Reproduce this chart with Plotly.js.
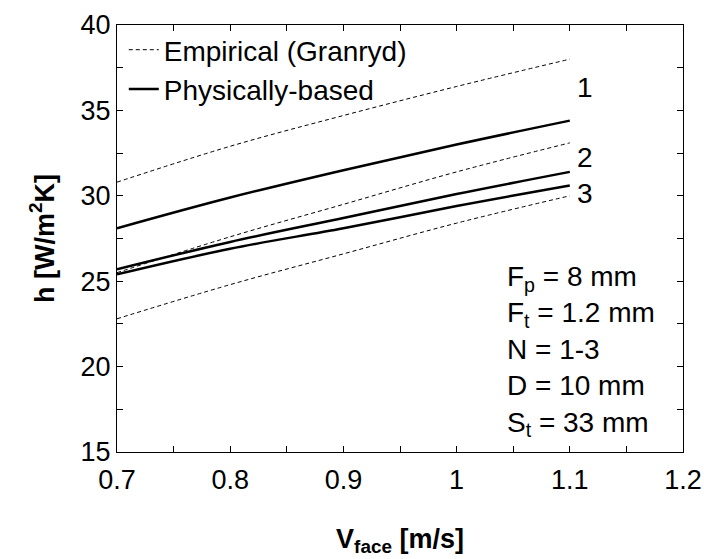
<!DOCTYPE html>
<html>
<head>
<meta charset="utf-8">
<script src="https://cdn.plot.ly/plotly-3.0.1.min.js"></script>
<style>html,body{margin:0;padding:0;background:#fff}#chart{width:704px;height:559px}</style>
</head>
<body>
<div id="chart"></div>
<script>
const vface = [0.7, 0.8, 0.9, 1.0, 1.1];
const empirical1 = [30.8, 32.9, 34.7, 36.4, 38.0];
const empirical2 = [25.5, 27.6, 29.5, 31.4, 33.1];
const empirical3 = [22.8, 24.8, 26.6, 28.4, 30.0];
const physical1 = [28.1, 29.9, 31.5, 33.0, 34.4];
const physical2 = [25.7, 27.3, 28.7, 30.1, 31.4];
const physical3 = [25.4, 26.9, 28.1, 29.4, 30.6];
const curveLabels = ['1', '2', '3'];
const curveLabelY = [36.35, 32.25, 30.15];
const xTickVals = [0.7, 0.8, 0.9, 1.0, 1.1, 1.2];
const xTickText = ['0.7', '0.8', '0.9', '1', '1.1', '1.2'];
const paramLines = ['F<sub>p</sub> = 8 mm', 'F<sub>t</sub> = 1.2 mm', 'N = 1-3', 'D = 10 mm', 'S<sub>t</sub> = 33 mm'];

const FONT = 'Liberation Sans, Arial, sans-serif';
const dashStyle = {color: '#000', width: 1, dash: '4px,3px', shape: 'spline'};
const solidStyle = {color: '#000', width: 2.5, shape: 'spline'};

const traces = [];
[empirical1, empirical2, empirical3].forEach((ys, i) => {
  traces.push({x: vface, y: ys, mode: 'lines', line: dashStyle, name: 'Empirical (Granryd)',
    legendgroup: 'emp', showlegend: i === 0, hoverinfo: 'skip'});
});
[physical1, physical2, physical3].forEach((ys, i) => {
  traces.push({x: vface, y: ys, mode: 'lines', line: solidStyle, name: 'Physically-based',
    legendgroup: 'phys', showlegend: i === 0, hoverinfo: 'skip'});
});

const annotations = curveLabels.map((t, i) => ({
  x: 1.1135, y: curveLabelY[i], xref: 'x', yref: 'y', text: t, showarrow: false,
  font: {family: FONT, size: 28, color: '#000'}, xanchor: 'center', yanchor: 'middle'
}));
annotations.push({
  x: 1.0425, y: 15.5, xref: 'x', yref: 'y', xanchor: 'left', yanchor: 'bottom', align: 'left',
  text: paramLines.join('<br>'), showarrow: false,
  font: {family: FONT, size: 28, color: '#000'}
});

const axisCommon = {
  showgrid: false, zeroline: false, showline: true, linecolor: '#000', linewidth: 1,
  mirror: 'allticks', ticks: 'inside', ticklen: 6, tickcolor: '#000', tickwidth: 1,
  tickfont: {family: FONT, size: 27, color: '#000'}
};

const layout = {
  width: 704, height: 559,
  margin: {l: 117, r: 21, t: 25, b: 107},
  paper_bgcolor: '#fff', plot_bgcolor: '#fff',
  font: {family: FONT, color: '#000'},
  xaxis: Object.assign({}, axisCommon, {
    range: [0.7, 1.2], tickmode: 'array', tickvals: xTickVals, ticktext: xTickText,
    ticklabelstandoff: 4,
    minor: {dtick: 0.05, tick0: 0.7, ticks: 'inside', ticklen: 6, tickcolor: '#000', showgrid: false},
    title: {text: '<b>V<sub>face</sub> [m/s]</b>', font: {family: FONT, size: 27, color: '#000'}, standoff: 34}
  }),
  yaxis: Object.assign({}, axisCommon, {
    range: [15, 40], dtick: 5, tick0: 15,
    minor: {dtick: 2.5, ticks: 'inside', ticklen: 6, tickcolor: '#000', showgrid: false},
    title: {text: '<b>h [W/m<sup>2</sup>K]</b>', font: {family: FONT, size: 27, color: '#000'}, standoff: 18}
  }),
  legend: {x: 0.012, y: 1.0, xanchor: 'left', yanchor: 'top', bgcolor: 'rgba(0,0,0,0)',
    font: {family: FONT, size: 28, color: '#000'}, tracegroupgap: 0, traceorder: 'grouped'},
  showlegend: true,
  annotations: annotations
};

Plotly.newPlot('chart', traces, layout, {staticPlot: true, displayModeBar: false});
</script>
</body>
</html>
